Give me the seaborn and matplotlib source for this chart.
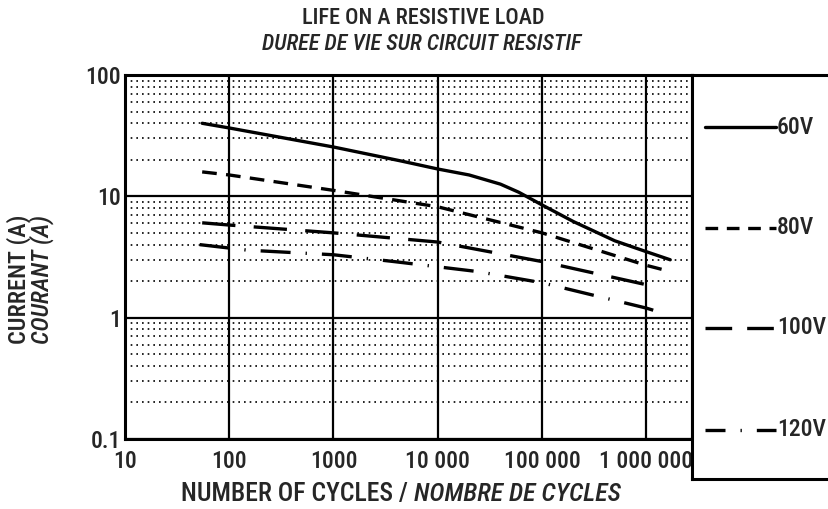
import numpy as np
import pandas as pd
import seaborn as sns
import matplotlib.pyplot as plt
from matplotlib import font_manager
from matplotlib.ticker import LogLocator, FixedLocator, NullFormatter

# data
cycles_60 = [55, 100, 1000, 4400, 10000, 20000, 40000, 60000, 100000, 200000, 500000, 1000000, 1700000]
current_60 = [40, 36.6, 25.5, 19.6, 16.8, 15.0, 12.6, 10.8, 8.5, 6.2, 4.3, 3.5, 3.0]
cycles_80 = [55, 100, 1000, 10000, 100000, 1000000, 1700000]
current_80 = [15.9, 15.0, 11.2, 8.2, 5.0, 2.7, 2.4]
cycles_100 = [55, 100, 1000, 10000, 100000, 1000000, 1350000]
current_100 = [6.05, 5.8, 5.0, 4.2, 2.9, 1.87, 1.67]
cycles_120 = [52, 150, 1000, 3800, 24000, 100000, 1000000, 1300000]
current_120 = [4.0, 3.6, 3.3, 2.9, 2.4, 1.94, 1.2, 1.12]

voltages = ["60V", "80V", "100V", "120V"]
x_ticks = [10, 100, 1000, 10000, 100000, 1000000]
x_labels = ["10", "100", "1000", "10 000", "100 000", "1 000 000"]
y_ticks = [0.1, 1, 10, 100]
y_labels = ["0.1", "1", "10", "100"]

df = pd.concat([
    pd.DataFrame({"cycles": cycles_60, "current": current_60, "voltage": "60V"}),
    pd.DataFrame({"cycles": cycles_80, "current": current_80, "voltage": "80V"}),
    pd.DataFrame({"cycles": cycles_100, "current": current_100, "voltage": "100V"}),
    pd.DataFrame({"cycles": cycles_120, "current": current_120, "voltage": "120V"}),
])

sns.set_style("white")

# narrow sans font if one is there, else plain Liberation Sans a bit smaller
have = {f.name for f in font_manager.fontManager.ttflist}
narrow = [n for n in ["Liberation Sans Narrow", "Arial Narrow", "Roboto Condensed",
                      "PT Sans Narrow", "Archivo Narrow"] if n in have]
if narrow:
    plt.rcParams["font.family"] = [narrow[0], "DejaVu Sans"]
    fs = 17
else:
    plt.rcParams["font.family"] = ["Liberation Sans", "DejaVu Sans"]
    fs = 14
plt.rcParams["font.weight"] = "medium"

lw = 2.4
dashes = {"60V": "", "80V": (4.4, 2.8), "100V": (10, 5.5), "120V": (9, 4.5, 0.4, 4.5)}
leg_dashes = {"60V": "", "80V": (3.8, 2.6), "100V": (8, 4.5), "120V": (6, 4.5, 0.4, 4.5)}

W, H = 829, 509
fig = plt.figure(figsize=(W / 100, H / 100), dpi=100)
ax = fig.add_axes([125 / W, 1 - 439 / H, (692 - 125) / W, (439 - 75) / H])

sns.lineplot(data=df, x="cycles", y="current", style="voltage", style_order=voltages,
             dashes=dashes, color="black", linewidth=lw, estimator=None, sort=False,
             legend=False, ax=ax)

ax.set_xscale("log")
ax.set_yscale("log")
ax.set_xlim(10, 2.75e6)
ax.set_ylim(0.1, 100)

ax.xaxis.set_major_locator(FixedLocator(x_ticks))
ax.set_xticklabels(x_labels)
ax.xaxis.set_minor_locator(LogLocator(base=10, subs=np.arange(2, 10)))
ax.xaxis.set_minor_formatter(NullFormatter())
ax.yaxis.set_major_locator(FixedLocator(y_ticks))
ax.set_yticklabels(y_labels)
ax.yaxis.set_minor_locator(LogLocator(base=10, subs=np.arange(2, 10)))
ax.yaxis.set_minor_formatter(NullFormatter())

ax.grid(which="major", color="black", linewidth=1.6, linestyle="-")
ax.grid(which="minor", axis="y", color="black", linewidth=1.2, linestyle=(0, (1, 2.4)))
ax.set_axisbelow(True)

ax.tick_params(axis="x", which="major", length=0, pad=8, labelsize=fs)
ax.tick_params(axis="x", which="minor", direction="in", length=6, width=1.2, top=False)
ax.tick_params(axis="y", which="both", length=0, pad=3, labelsize=fs)
for s in ax.spines.values():
    s.set_linewidth(2.2)
    s.set_color("black")
ax.set_xlabel("")
ax.set_ylabel("")

# legend box to the right of the plot
lax = fig.add_axes([692 / W, 1 - 479 / H, 160 / W, (479 - 75) / H])
lax.set_xlim(692, 852)
lax.set_ylim(479, 75)
lax.set_xticks([])
lax.set_yticks([])
for s in lax.spines.values():
    s.set_linewidth(2.2)
    s.set_color("black")
for v, yy in zip(voltages, [127, 228, 328, 430]):
    lax.plot([705, 776], [yy, yy], color="black", linewidth=lw,
             linestyle="-" if v == "60V" else (0, leg_dashes[v]))
    lax.text(777, yy, v, va="center", ha="left", fontsize=fs)

# titles
fig.text(0.511, 1 - 18 / H, "LIFE ON A RESISTIVE LOAD", ha="center", va="center", fontsize=fs - 1)
fig.text(0.508, 1 - 45 / H, "DUREE DE VIE SUR CIRCUIT RESISTIF", ha="center", va="center",
         fontsize=fs - 1, style="italic")

# axis labels
fig.text(19 / W, 1 - 279 / H, "CURRENT (A)", rotation=90, ha="center", va="center", fontsize=fs + 0.5)
fig.text(42 / W, 1 - 279 / H, "COURANT (A)", rotation=90, ha="center", va="center",
         fontsize=fs + 0.5, style="italic")

t1 = fig.text(0, 1 - 494 / H, "NUMBER OF CYCLES / ", ha="left", va="center", fontsize=fs + 1.5)
t2 = fig.text(0, 1 - 494 / H, "NOMBRE DE CYCLES", ha="left", va="center", fontsize=fs + 1.5,
              style="italic")
fig.canvas.draw()
r = fig.canvas.get_renderer()
w1 = t1.get_window_extent(r).width
w2 = t2.get_window_extent(r).width
x0 = 401 - (w1 + w2) / 2
t1.set_x(x0 / W)
t2.set_x((x0 + w1) / W)

fig.savefig("out.png", dpi=100)
